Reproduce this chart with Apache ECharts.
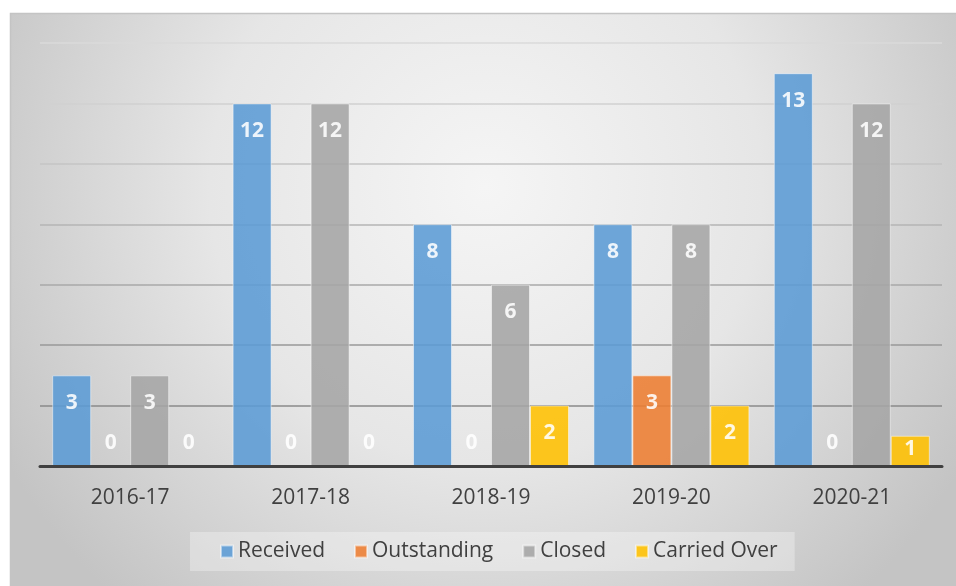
<!DOCTYPE html>
<html>
<head>
<meta charset="utf-8">
<script src="https://cdn.jsdelivr.net/npm/echarts@6/dist/echarts.min.js"></script>
<style>
html,body{margin:0;padding:0;background:#fff;}
#chart{width:956px;height:586px;}
</style>
</head>
<body>
<div id="chart"></div>
<script>
var categories = ['2016-17', '2017-18', '2018-19', '2019-20', '2020-21'];
var receivedVals = [3, 12, 8, 8, 13];
var outstandingVals = [0, 0, 0, 3, 0];
var closedVals = [3, 12, 6, 8, 12];
var carriedOverVals = [0, 0, 2, 2, 1];
var seriesNames = ['Received', 'Outstanding', 'Closed', 'Carried Over'];
var seriesColors = ['#5b9bd5', '#ed7d31', '#a5a5a5', '#ffc000'];
var yTicks = [0, 2, 4, 6, 8, 10, 12, 14];

var FONT = '"Open Sans", Lato, sans-serif';

function makeItems(vals) {
  return vals.map(function (v) {
    var lab;
    if (v === 0) {
      lab = { position: 'top', distance: 12 };
    } else if (v < 2) {
      lab = { position: 'insideTop', distance: 3 };
    } else {
      lab = { position: 'insideTop', distance: 17 };
    }
    return {
      value: v,
      label: lab,
      itemStyle: v === 0 ? { borderWidth: 0 } : {}
    };
  });
}

var allData = [receivedVals, outstandingVals, closedVals, carriedOverVals];
var seriesList = allData.map(function (vals, i) {
  return {
    name: seriesNames[i],
    type: 'bar',
    barWidth: 39,
    barGap: '0%',
    data: makeItems(vals),
    itemStyle: {
      color: seriesColors[i],
      opacity: 0.88,
      borderColor: 'rgba(255,255,255,0.55)',
      borderWidth: 1
    },
    label: {
      show: true,
      color: '#ffffff',
      fontFamily: FONT,
      fontWeight: 'bold',
      fontSize: 21
    }
  };
});

var chart = echarts.init(document.getElementById('chart'), null, { renderer: 'canvas' });
chart.setOption({
  animation: false,
  backgroundColor: '#ffffff',
  color: seriesColors,
  graphic: {
    elements: [{
      type: 'rect',
      z: -100,
      silent: true,
      shape: { x: 10.5, y: 13.5, width: 950, height: 580 },
      style: {
        fill: new echarts.graphic.RadialGradient(0.5, 0.3, 0.95, [
          { offset: 0, color: '#f5f5f5' },
          { offset: 0.5, color: '#e6e6e6' },
          { offset: 1, color: '#c4c4c4' }
        ]),
        stroke: '#c4c4c4',
        lineWidth: 1.5
      }
    }]
  },
  grid: { left: 40, right: 14, top: 43, bottom: 120, containLabel: false },
  legend: {
    data: seriesNames,
    bottom: 15,
    left: 190,
    icon: 'rect',
    itemWidth: 12,
    itemHeight: 12,
    itemGap: 29,
    padding: [9, 17, 9, 30],
    backgroundColor: 'rgba(255,255,255,0.3)',
    textStyle: { fontFamily: FONT, fontSize: 21, color: '#404040' }
  },
  xAxis: {
    type: 'category',
    data: categories,
    z: 10,
    axisLine: { show: true, lineStyle: { color: '#404040', width: 3 } },
    axisTick: { show: false },
    axisLabel: { color: '#404040', fontFamily: FONT, fontSize: 21, margin: 22 },
    splitLine: { show: false }
  },
  yAxis: {
    type: 'value',
    min: yTicks[0],
    max: yTicks[yTicks.length - 1],
    interval: 2,
    axisLine: { show: false },
    axisTick: { show: false },
    axisLabel: { show: false },
    splitLine: {
      show: true,
      lineStyle: {
        width: 1.5,
        color: ['#888888', '#8a8a8a', '#999999', '#a8a8a8', '#b5b5b5', '#c4c4c4', '#d0d0d0', '#dadada']
      }
    }
  },
  series: seriesList
});
</script>
</body>
</html>
